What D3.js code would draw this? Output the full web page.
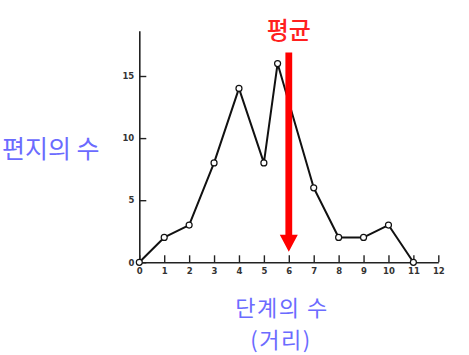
<!DOCTYPE html>
<html><head><meta charset="utf-8">
<script src="https://cdn.jsdelivr.net/npm/d3@7"></script>
<style>
html,body{margin:0;padding:0;background:#fff;}
svg{display:block;}
.tick text{font-family:"DejaVu Sans",sans-serif;font-size:8.5px;font-weight:bold;fill:#333;}
</style></head>
<body>
<svg id="c" width="469" height="355"></svg>
<script>
// Data
const steps   = [0, 1, 2, 3, 4, 5, 5.55, 7, 8, 9, 10, 11];
const letters = [0, 2, 3, 8, 14, 8, 16, 6, 2, 2, 3, 0];
const xTicks  = [0,1,2,3,4,5,6,7,8,9,10,11,12];
const yTicks  = [0,5,10,15];
const meanStep = 6;
const arrowFrom = 16.9, arrowTo = 0.85;
const yLabel = "편지의 수";
const xLabel1 = "단계의 수";
const xLabel2 = "(거리)";
const meanLabel = "평균";

const svg = d3.select("#c");
const x = d3.scaleLinear().domain([0,12]).range([139.3, 438.3]);
const y = d3.scaleLinear().domain([0,15]).range([262.3, 76]);
const yTop = y.invert(30.7);
const yAxisScale = d3.scaleLinear().domain([0, yTop]).range([y(0), y(yTop)]);

// axes
svg.append("g").attr("transform", `translate(0,${y(0)})`)
  .call(d3.axisBottom(x).tickValues(xTicks).tickFormat(d3.format("d"))
        .tickSizeInner(-7).tickSizeOuter(0).tickPadding(6));
svg.append("g").attr("transform", `translate(${x(0)},0)`)
  .call(d3.axisLeft(yAxisScale).tickValues(yTicks).tickFormat(d3.format("d"))
        .tickSizeInner(-7).tickSizeOuter(0).tickPadding(5));
svg.selectAll(".domain").attr("stroke","#222").attr("stroke-width",1.6);
svg.selectAll(".tick line").attr("stroke","#222").attr("stroke-width",1.4);

// line
const pts = steps.map((s,i)=>[s, letters[i]]);
svg.append("path").datum(pts)
  .attr("fill","none").attr("stroke","#111").attr("stroke-width",2)
  .attr("stroke-linejoin","round")
  .attr("d", d3.line().x(d=>x(d[0])).y(d=>y(d[1])));
svg.selectAll("circle.p").data(pts).join("circle")
  .attr("class","p").attr("cx",d=>x(d[0])).attr("cy",d=>y(d[1])).attr("r",3)
  .attr("fill","#fff").attr("stroke","#111").attr("stroke-width",1.2);

// mean arrow
const ax = x(meanStep), ay0 = y(arrowFrom), ay1 = y(arrowTo);
const sw = 3.4, hw = 9, hh = 17;
svg.append("path")
  .attr("fill","#ff0000")
  .attr("d", `M${ax-sw},${ay0} L${ax+sw},${ay0} L${ax+sw},${ay1-hh} L${ax+hw},${ay1-hh} L${ax},${ay1} L${ax-hw},${ay1-hh} L${ax-sw},${ay1-hh} Z`);

// labels
svg.append("text").attr("x", ax).attr("y", 39)
  .attr("text-anchor","middle").attr("font-family","'Noto Sans CJK KR'")
  .attr("font-size",24).attr("font-weight","500").attr("fill","#ff1f1f").text(meanLabel);
svg.append("text").attr("x", 2).attr("y", 158)
  .attr("font-family","'Noto Sans CJK KR'")
  .attr("font-size",25).attr("fill","#6b6bff").text(yLabel);
svg.append("text").attr("x", 282).attr("y", 315.5).attr("text-anchor","middle")
  .attr("font-family","'Noto Sans CJK KR'").attr("letter-spacing",1.5)
  .attr("font-size",22).attr("fill","#6b6bff").text(xLabel1);
svg.append("text").attr("x", 281).attr("y", 348).attr("text-anchor","middle")
  .attr("font-family","'Noto Sans CJK KR'").attr("letter-spacing",1.5)
  .attr("font-size",22).attr("fill","#6b6bff").text(xLabel2);
</script>
</body></html>
